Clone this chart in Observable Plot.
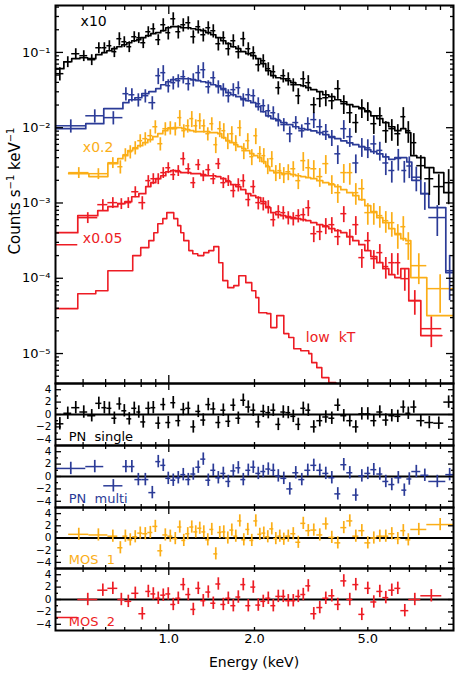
<!DOCTYPE html>
<html><head><meta charset="utf-8">
<script src="https://cdn.jsdelivr.net/npm/d3@7"></script>
<script src="https://cdn.jsdelivr.net/npm/@observablehq/plot@0.6"></script>
<style>
html,body{margin:0;padding:0;background:#fff;}
#wrap{position:relative;width:457px;height:685px;overflow:hidden;font-family:"DejaVu Sans",sans-serif;color:#000;}
.panel{position:absolute;left:0;}
.panel svg{overflow:visible;display:block;}
#xtitle{position:absolute;left:254px;top:662px;transform:translate(-50%,-50%);font-size:14px;white-space:nowrap;}
#ytitle{position:absolute;left:15px;top:191px;transform:translate(-50%,-50%) rotate(-90deg);font-size:15px;white-space:nowrap;}
#ytitle sup{font-size:10px;vertical-align:6px;line-height:0;}
</style></head>
<body><div id="wrap">
<div id="ytitle">Counts s<sup>−1</sup> keV<sup>−1</sup></div>
<div id="xtitle">Energy (keV)</div>
</div>
<script>
// ---------------- DATA ----------------
// PN single (scaled x10): bin edges (keV), model, data, relative error, residual (sigma)
const pnsEdges = [0.401,0.428,0.456,0.487,0.519,0.554,0.582,0.606,0.631,0.657,0.684,0.712,0.741,0.772,0.797,0.830,0.865,0.900,0.937,0.976,1.016,1.058,1.102,1.147,1.195,1.244,1.295,1.349,1.404,1.463,1.523,1.586,1.651,1.720,1.790,1.864,1.941,2.021,2.104,2.191,2.282,2.376,2.474,2.576,2.682,2.793,2.908,3.028,3.153,3.310,3.474,3.648,3.829,4.019,4.219,4.429,4.650,4.881,5.123,5.378,5.646,5.925,6.221,6.530,6.800,7.080,7.432,7.930,8.526,9.246,10.0];
const pnsModel = [0.0608,0.0752,0.0825,0.085,0.0825,0.0932,0.0991,0.1053,0.112,0.119,0.1265,0.1345,0.143,0.1475,0.1568,0.1667,0.1772,0.1827,0.1942,0.2128,0.2195,0.2195,0.2128,0.2128,0.2064,0.2002,0.1942,0.1827,0.1718,0.1568,0.143,0.1305,0.119,0.112,0.1022,0.0961,0.0904,0.0825,0.0708,0.0571,0.0491,0.0461,0.0447,0.0421,0.0396,0.0372,0.0361,0.034,0.032,0.0301,0.0274,0.0258,0.0235,0.0221,0.0202,0.019,0.0179,0.0163,0.0144,0.0132,0.0117,0.0103,0.00912,0.0097,0.00858,0.00425,0.004,0.00294,0.00253,0.00137];
const pnsData = [0.0522,0.0752,0.0961,0.0904,0.08,0.1154,0.1154,0.1227,0.1022,0.1521,0.1387,0.119,0.1616,0.1568,0.1345,0.1883,0.2064,0.1475,0.2333,0.1827,0.2802,0.1883,0.2333,0.248,0.1616,0.2195,0.1718,0.2128,0.1942,0.1305,0.1568,0.112,0.143,0.1022,0.1521,0.112,0.0991,0.0687,0.0776,0.0608,0.0554,0.034,0.0491,0.0447,0.0372,0.0266,0.0447,0.0396,0.0202,0.0243,0.025,0.0228,0.033,0.0208,0.0158,0.0117,0.0184,0.0168,0.0113,0.0144,0.00912,0.0097,0.00832,0.014,0.00912,0.00632,0.00313,0.0021,0.00165,0.00186];
const pnsRelErr = [0.2,0.165,0.165,0.165,0.165,0.165,0.165,0.165,0.165,0.2,0.165,0.165,0.165,0.165,0.165,0.165,0.165,0.165,0.2,0.2,0.2,0.2,0.2,0.2,0.2,0.2,0.2,0.2,0.2,0.2,0.2,0.2,0.2,0.2,0.22,0.2,0.2,0.2,0.2,0.2,0.2,0.2,0.2,0.2,0.2,0.24,0.24,0.24,0.24,0.24,0.24,0.24,0.28,0.28,0.28,0.28,0.28,0.28,0.28,0.28,0.32,0.32,0.32,0.32,0.32,0.32,0.36,0.4,0.44,0.49];
const pnsResid = [-1.5,0.2,1.1,0.4,-0.2,1.8,1.1,1.0,-0.6,1.7,0.6,-0.7,1.0,0.4,-1.2,1.0,1.1,-1.4,1.6,-1.3,1.9,-1.0,0.8,1.0,-2.0,0.5,-0.9,1.6,0.9,-1.3,0.7,-1.1,1.5,-0.6,2.3,1.2,0.7,-1.2,0.5,0.3,0.7,-1.6,0.4,0.3,-0.3,-1.6,1.0,0.7,-2.0,-1.0,-0.4,-0.6,1.5,-0.2,-1.0,-2.0,0.1,0.1,-1.0,0.4,-0.9,-0.2,-0.3,1.2,0.2,1.2,-1.0,-1.3,-1.4,2.0];

// PN multi (unscaled)
const pnmEdges = [0.401,0.511,0.591,0.690,0.724,0.760,0.804,0.851,0.900,0.937,0.976,1.016,1.058,1.102,1.147,1.195,1.244,1.295,1.349,1.404,1.463,1.523,1.586,1.651,1.720,1.790,1.864,1.941,2.021,2.104,2.191,2.282,2.376,2.474,2.597,2.726,2.861,3.004,3.153,3.310,3.474,3.648,3.829,4.019,4.219,4.429,4.650,4.881,5.123,5.378,5.646,5.925,6.221,6.583,6.855,7.138,7.677,8.190,9.397,10.0];
const pnmModel = [0.0097,0.0113,0.0179,0.0215,0.0235,0.025,0.0283,0.0301,0.033,0.0372,0.0408,0.0434,0.0447,0.0447,0.0447,0.0434,0.0421,0.0408,0.0396,0.0372,0.0361,0.033,0.0292,0.0274,0.0258,0.0243,0.0228,0.0215,0.019,0.0163,0.0144,0.0132,0.0124,0.0117,0.011,0.0103,0.0097,0.0094,0.0091,0.0086,0.0081,0.0076,0.00715,0.0067,0.0063,0.00595,0.0056,0.0051,0.0048,0.0045,0.0041,0.0038,0.004,0.004,0.0035,0.002,0.00133,0.00087,0.000119];
const pnmData = [0.0106,0.0144,0.0136,0.0283,0.0274,0.0235,0.0266,0.0215,0.0491,0.0538,0.0361,0.0396,0.0421,0.0476,0.0384,0.0434,0.0538,0.0589,0.035,0.0461,0.035,0.032,0.0266,0.032,0.034,0.0235,0.0274,0.0266,0.0208,0.0196,0.0168,0.0158,0.0128,0.011,0.0083,0.0117,0.0091,0.0113,0.0128,0.0103,0.0089,0.0074,0.0045,0.0097,0.0076,0.0034,0.0056,0.0054,0.0061,0.005,0.0034,0.0027,0.0039,0.0027,0.0031,0.0022,0.00133,0.00064,0.000126];
const pnmRelErr = [0.2,0.2,0.2,0.2,0.2,0.2,0.2,0.2,0.24,0.24,0.2,0.2,0.2,0.2,0.2,0.2,0.24,0.24,0.2,0.2,0.2,0.2,0.2,0.2,0.2,0.2,0.2,0.2,0.2,0.2,0.2,0.2,0.2,0.2,0.24,0.2,0.2,0.2,0.24,0.24,0.24,0.24,0.28,0.28,0.28,0.28,0.28,0.28,0.28,0.28,0.32,0.32,0.32,0.32,0.32,0.36,0.4,0.44,0.6];
const pnmResid = [1.3,1.6,-1.5,1.6,1.6,-0.5,-0.5,-2.6,2.4,1.8,-0.3,-0.6,-0.2,0.3,-0.5,0.4,1.5,2.8,-0.6,1.0,-0.2,0.5,-0.8,0.9,1.4,-0.5,1.0,1.5,0.5,0.8,1.2,1.0,0.1,-0.3,-2.0,0.6,-0.5,1.0,1.8,1.0,0.5,-0.2,-2.8,1.9,0.6,-3.0,0.1,0.5,1.1,0.4,-0.8,-1.3,-0.2,-2.2,-0.4,0.8,0.2,-0.8,0.3];

// MOS 1 (scaled x0.2)
const mos1Edges = [0.445,0.524,0.611,0.662,0.690,0.718,0.747,0.778,0.810,0.844,0.879,0.915,0.953,0.992,1.033,1.075,1.111,1.147,1.185,1.224,1.264,1.306,1.349,1.393,1.439,1.486,1.535,1.586,1.638,1.692,1.747,1.805,1.864,1.925,1.989,2.054,2.122,2.191,2.263,2.338,2.415,2.494,2.576,2.682,2.793,2.908,3.028,3.153,3.310,3.474,3.648,3.829,4.019,4.219,4.429,4.650,4.881,5.123,5.378,5.646,5.925,6.221,6.530,6.800,7.080,8.058,10.0];
const mos1Model = [0.00245,0.00224,0.00333,0.00388,0.00425,0.00495,0.00526,0.00577,0.00632,0.00693,0.0076,0.00832,0.00912,0.0097,0.01,0.01,0.0097,0.00941,0.00912,0.00885,0.00885,0.00885,0.00885,0.00858,0.00858,0.00832,0.00737,0.00672,0.00632,0.00595,0.00559,0.00526,0.00495,0.00452,0.00425,0.004,0.00354,0.00303,0.00269,0.00253,0.00253,0.00245,0.00245,0.00238,0.0023,0.00224,0.00217,0.0021,0.00198,0.00186,0.00175,0.00165,0.0015,0.00137,0.00125,0.00111,0.00092,0.000767,0.000638,0.000548,0.000456,0.000391,0.000336,0.000316,0.000102,0.0000319];
const mos1Data = [0.00253,0.00245,0.00343,0.00303,0.00438,0.0048,0.00543,0.00672,0.00715,0.00783,0.0103,0.00613,0.0097,0.01,0.0097,0.0136,0.00912,0.0106,0.0132,0.0106,0.01239,0.0106,0.00832,0.0113,0.00595,0.0097,0.00912,0.00672,0.00832,0.00632,0.01,0.00495,0.00672,0.00412,0.00783,0.00452,0.00425,0.00313,0.00388,0.00253,0.00269,0.00238,0.0026,0.00285,0.00198,0.00365,0.00294,0.00285,0.00224,0.00333,0.0018,0.00137,0.00253,0.00253,0.00137,0.00155,0.000744,0.000744,0.000679,0.000582,0.000548,0.000379,0.000484,0.000288,0.000147,0.0000728];
const mos1RelErr = [0.165,0.165,0.165,0.2,0.2,0.2,0.2,0.2,0.2,0.2,0.2,0.2,0.2,0.2,0.2,0.24,0.2,0.2,0.24,0.2,0.24,0.2,0.2,0.2,0.24,0.24,0.24,0.24,0.24,0.24,0.24,0.24,0.24,0.24,0.24,0.24,0.24,0.24,0.24,0.24,0.24,0.24,0.24,0.24,0.24,0.28,0.28,0.28,0.28,0.28,0.28,0.28,0.28,0.32,0.32,0.32,0.32,0.32,0.32,0.32,0.36,0.36,0.36,0.4,0.44,0.53];
const mos1Resid = [0.6,0.5,0.3,-1.6,0.3,-0.3,0.2,0.8,0.7,0.9,1.9,-2.1,0.5,0.3,-0.1,1.8,-0.4,0.7,1.8,1.0,1.6,1.0,-0.3,1.4,-2.6,0.9,1.0,0.0,1.3,0.3,2.8,-0.3,1.4,-0.4,2.8,0.6,0.8,0.2,1.5,-0.1,0.3,-0.2,0.3,0.7,-0.7,2.4,1.2,1.3,0.5,2.3,0.1,-0.8,1.7,2.8,0.3,1.2,-0.8,0.0,0.3,0.3,0.7,-0.1,1.2,-0.3,1.4,2.2];

// MOS 2 (scaled x0.05)
const mos2Edges = [0.33,0.479,0.563,0.611,0.662,0.701,0.741,0.785,0.830,0.865,0.900,0.937,0.976,1.016,1.058,1.102,1.147,1.195,1.244,1.295,1.349,1.404,1.463,1.523,1.586,1.651,1.720,1.790,1.864,1.941,2.021,2.104,2.191,2.282,2.376,2.474,2.576,2.682,2.793,2.908,3.028,3.153,3.310,3.474,3.648,3.829,4.019,4.219,4.429,4.650,4.881,5.123,5.378,5.646,5.925,6.221,6.530,6.966,7.677,9.097];
const mos2Model = [0.000403,0.000679,0.00079,0.000894,0.000979,0.00104,0.00121,0.00133,0.00165,0.00186,0.0021,0.0023,0.0026,0.00269,0.0026,0.00253,0.00253,0.00245,0.00245,0.00238,0.0023,0.0023,0.00224,0.0021,0.00192,0.00175,0.00165,0.0015,0.00133,0.00125,0.00118,0.00104,0.000866,0.000744,0.000699,0.000679,0.000658,0.000638,0.000619,0.0006,0.000582,0.000548,0.000515,0.000484,0.000456,0.000429,0.000403,0.000357,0.000316,0.000279,0.000233,0.000194,0.000161,0.000134,0.000112,0.000102,0.000134,0.0000504,0.0000173];
const mos2Data = [0.000279,0.000638,0.00095,0.00101,0.000979,0.00101,0.00141,0.00101,0.00198,0.0021,0.0021,0.00253,0.00294,0.00238,0.00269,0.00388,0.00285,0.00186,0.00323,0.0023,0.00277,0.0021,0.00333,0.00186,0.00198,0.00146,0.00175,0.00198,0.00111,0.00165,0.00101,0.000979,0.000894,0.0006,0.000767,0.000744,0.000638,0.000619,0.000679,0.000699,0.000866,0.000391,0.000416,0.0005,0.000515,0.000357,0.000721,0.000357,0.000515,0.000188,0.000316,0.000182,0.000219,0.000143,0.000161,0.000161,0.0000988,0.0000504,0.0000214];
const mos2RelErr = [0.165,0.165,0.165,0.165,0.165,0.165,0.165,0.2,0.165,0.165,0.165,0.165,0.165,0.165,0.165,0.2,0.165,0.165,0.165,0.165,0.165,0.165,0.165,0.165,0.165,0.2,0.2,0.2,0.2,0.2,0.2,0.2,0.2,0.2,0.2,0.2,0.2,0.2,0.2,0.2,0.24,0.24,0.24,0.24,0.24,0.24,0.24,0.24,0.28,0.28,0.28,0.28,0.28,0.32,0.32,0.32,0.32,0.36,0.44];
const mos2Resid = [-2.9,0.0,1.5,1.8,0.0,-0.3,1.0,-2.3,1.3,0.9,0.2,0.7,0.9,-0.8,0.2,2.4,0.8,-1.6,1.8,-0.2,1.2,-0.6,2.5,-0.8,0.2,-1.0,0.4,2.4,-1.0,2.0,-0.9,-0.3,0.2,-1.0,0.5,0.5,-0.2,-0.2,0.5,0.8,2.2,-2.3,-1.3,0.2,0.6,-0.8,3.0,0.0,2.4,-2.4,1.8,-0.4,1.3,0.3,1.5,1.8,-1.8,0.0,0.6];

// low kT component (model only)
const lowktEdges = [0.401,0.479,0.554,0.611,0.747,0.797,0.851,0.886,0.915,0.953,0.984,1.041,1.075,1.102,1.129,1.176,1.214,1.264,1.327,1.382,1.439,1.498,1.548,1.611,1.692,1.762,1.864,1.956,2.021,2.071,2.210,2.282,2.395,2.535,2.639,2.748,2.908,3.102,3.178,3.310,3.447,3.648,3.860,4.185];
const lowktModel = [3.95e-5,6.24e-5,6.84e-5,1.26e-4,2.0e-4,2.55e-4,3.16e-4,4.03e-4,5.31e-4,6.19e-4,7.44e-4,6.19e-4,5.0e-4,4.03e-4,3.16e-4,2.33e-4,2.12e-4,2.0e-4,2.19e-4,2.33e-4,2.63e-4,1.61e-4,9.29e-5,7.5e-5,7.98e-5,1.08e-4,8.74e-5,6.84e-5,5.53e-5,3.49e-5,3.39e-5,2.21e-5,3.19e-5,1.84e-5,1.63e-5,1.16e-5,1.09e-5,9.97e-6,7.57e-6,6.5e-6,4.79e-6,4.11e-6,3.03e-6];

// tick labels
const yTickLabels = [1e-5, 1e-4, 1e-3, 1e-2, 1e-1];
const xTickLabels = [1, 2, 5];
const residTickLabels = [-4, -2, 0, 2, 4];
const residMinorTicks = [-3, -1, 1, 3];
const xMinorTicks = [0.5, 0.6, 0.7, 0.8, 0.9, 2, 3, 4, 5, 6, 7, 8, 9];
const xMajorTicks = [1];

// ---------------- BUILD ----------------
const FONT = '"DejaVu Sans", sans-serif';
const xDomain = [0.4, 10];
const yDomainMain = [4e-6, 0.42];
const COL = {black: "#000000", blue: "#2b3b97", orange: "#fbae17", red: "#ed1c24"};

function makeBins(edges, model, data, rel, resid) {
  return model.map((m, i) => ({
    lo: edges[i], hi: edges[i + 1], e: Math.sqrt(edges[i] * edges[i + 1]),
    model: m, data: data[i], err: data[i] * rel[i], resid: resid[i]
  }));
}
function stepPts(edges, vals) {
  const p = vals.map((v, i) => ({E: edges[i], v}));
  p.push({E: edges[edges.length - 1], v: vals[vals.length - 1]});
  return p;
}
const specs = [
  {name: "MOS  2", color: COL.red, edges: mos2Edges, model: mos2Model, data: mos2Data, rel: mos2RelErr, resid: mos2Resid},
  {name: "MOS  1", color: COL.orange, edges: mos1Edges, model: mos1Model, data: mos1Data, rel: mos1RelErr, resid: mos1Resid},
  {name: "PN  multi", color: COL.blue, edges: pnmEdges, model: pnmModel, data: pnmData, rel: pnmRelErr, resid: pnmResid},
  {name: "PN  single", color: COL.black, edges: pnsEdges, model: pnsModel, data: pnsData, rel: pnsRelErr, resid: pnsResid}
];
specs.forEach(s => { s.bins = makeBins(s.edges, s.model, s.data, s.rel, s.resid); });

const yMinorMain = [];
for (let p = -6; p <= 0; p++) for (let k = 2; k <= 9; k++) {
  const v = k * Math.pow(10, p);
  if (v >= yDomainMain[0] && v <= yDomainMain[1]) yMinorMain.push(v);
}
const SUP = {"-": "⁻", "0": "⁰", "1": "¹", "2": "²", "3": "³", "4": "⁴", "5": "⁵", "6": "⁶", "7": "⁷", "8": "⁸", "9": "⁹"};
const fmtPow = d => "10" + String(Math.round(Math.log10(d))).split("").map(c => SUP[c]).join("");

function tickAxis(fn, anchor, values, size) {
  return fn(values, {anchor, tickSize: -size, strokeWidth: 1.3, fill: "none", tickFormat: () => "", label: null});
}
const styleObj = {fontFamily: FONT, fontSize: "13px", background: "transparent", overflow: "visible", color: "black"};

// main panel
const mainMarks = [
  Plot.line(stepPts(lowktEdges, lowktModel), {x: "E", y: "v", curve: "step-after", stroke: COL.red, strokeWidth: 1.6, clip: true})
];
for (const s of specs) {
  mainMarks.push(
    Plot.line(stepPts(s.edges, s.model), {x: "E", y: "v", curve: "step-after", stroke: s.color, strokeWidth: 1.7, clip: true}),
    Plot.ruleY(s.bins, {y: "data", x1: "lo", x2: "hi", stroke: s.color, strokeWidth: 1.5, clip: true}),
    Plot.ruleX(s.bins, {x: "e", y1: d => d.data - d.err, y2: d => d.data + d.err, stroke: s.color, strokeWidth: 1.7, clip: true})
  );
}
mainMarks.push(
  Plot.text(["x10"], {x: 0.49, y: 0.26, text: d => d, textAnchor: "start", fill: COL.black, fontSize: 14}),
  Plot.text(["x0.2"], {x: 0.499, y: 0.0054, text: d => d, textAnchor: "start", fill: COL.orange, fontSize: 14}),
  Plot.text(["x0.05"], {x: 0.499, y: 0.000336, text: d => d, textAnchor: "start", fill: COL.red, fontSize: 14}),
  Plot.text(["low  kT"], {x: 3.03, y: 1.63e-5, text: d => d, textAnchor: "start", fill: COL.red, fontSize: 14}),
  tickAxis(Plot.axisY, "left", yMinorMain, 4),
  tickAxis(Plot.axisY, "left", yTickLabels, 8),
  tickAxis(Plot.axisY, "right", yMinorMain, 4),
  tickAxis(Plot.axisY, "right", yTickLabels, 8),
  tickAxis(Plot.axisX, "top", xMinorTicks, 4),
  tickAxis(Plot.axisX, "top", xMajorTicks, 8),
  tickAxis(Plot.axisX, "bottom", xMinorTicks, 4),
  tickAxis(Plot.axisX, "bottom", xMajorTicks, 8),
  Plot.axisY(yTickLabels, {anchor: "left", tickSize: 0, tickPadding: 5, tickFormat: fmtPow, label: null, fontSize: 13}),
  Plot.frame({stroke: "black", strokeWidth: 2})
);
const mainPlot = Plot.plot({
  width: 457, height: 384, marginLeft: 55, marginRight: 4, marginTop: 5, marginBottom: 1,
  style: styleObj,
  x: {type: "log", domain: xDomain},
  y: {type: "log", domain: yDomainMain},
  marks: mainMarks
});

function residPlot(s, height, marginBottom, showX) {
  const marks = [
    Plot.ruleY([0], {stroke: "black", strokeWidth: 2}),
    Plot.ruleY(s.bins, {y: "resid", x1: "lo", x2: "hi", stroke: s.color, strokeWidth: 1.5, clip: true}),
    Plot.ruleX(s.bins, {x: "e", y1: d => d.resid - 1, y2: d => d.resid + 1, stroke: s.color, strokeWidth: 1.7, clip: true}),
    Plot.text([s.name], {x: 0.445, y: -3.6, text: d => d, textAnchor: "start", fill: s.color, fontSize: 13}),
    tickAxis(Plot.axisY, "left", residMinorTicks, 3),
    tickAxis(Plot.axisY, "left", residTickLabels, 6),
    tickAxis(Plot.axisY, "right", residMinorTicks, 3),
    tickAxis(Plot.axisY, "right", residTickLabels, 6),
    tickAxis(Plot.axisX, "top", xMinorTicks, 3),
    tickAxis(Plot.axisX, "top", xMajorTicks, 6),
    tickAxis(Plot.axisX, "bottom", xMinorTicks, 3),
    tickAxis(Plot.axisX, "bottom", xMajorTicks, 6),
    Plot.axisY(residTickLabels, {anchor: "left", tickSize: 0, tickPadding: 4, label: null, fontSize: 10.5}),
    Plot.frame({stroke: "black", strokeWidth: 2})
  ];
  if (showX) marks.push(Plot.text(xTickLabels, {x: d => d, y: -5, dy: 3, lineAnchor: "top", text: d => d.toFixed(1), fill: "black", fontSize: 13}));
  return Plot.plot({
    width: 457, height, marginLeft: 55, marginRight: 4, marginTop: 0, marginBottom,
    style: styleObj,
    x: {type: "log", domain: xDomain},
    y: {domain: [-5, 5]},
    marks
  });
}

const wrap = document.getElementById("wrap");
function place(svg, top) {
  const d = document.createElement("div");
  d.className = "panel";
  d.style.top = top + "px";
  d.appendChild(svg);
  wrap.insertBefore(d, wrap.firstChild);
}
const bySeries = {};
specs.forEach(s => bySeries[s.name] = s);
place(residPlot(bySeries["MOS  2"], 117, 55, true), 568);
place(residPlot(bySeries["MOS  1"], 61, 0, false), 507);
place(residPlot(bySeries["PN  multi"], 62, 0, false), 445);
place(residPlot(bySeries["PN  single"], 62, 0, false), 383);
place(mainPlot, 0);
</script></body></html>
